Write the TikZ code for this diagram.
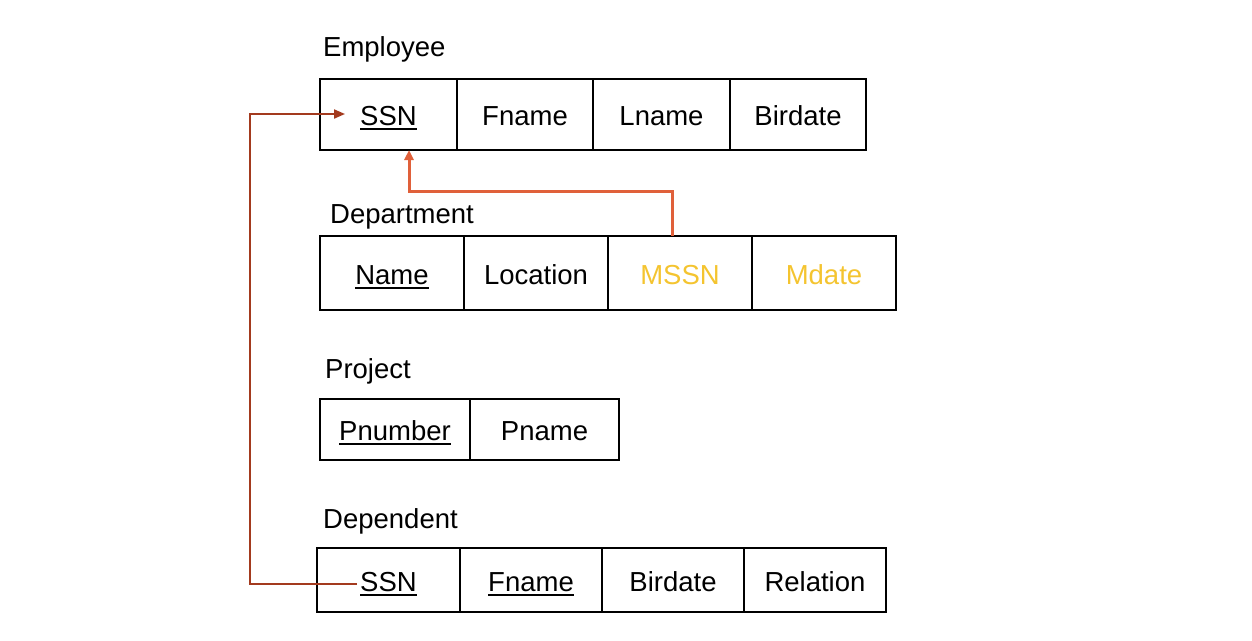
\documentclass[tikz,border=0pt]{standalone}
\usepackage{fontspec}
\setmainfont{Liberation Sans}
\usetikzlibrary{arrows.meta}
\definecolor{fkorange}{HTML}{E0603A}
\definecolor{fkred}{HTML}{A33A1E}
\definecolor{fkyellow}{HTML}{F4C430}
\newcommand\keyul[1]{\setbox0\hbox{#1}\rlap{\rule[-4.5pt]{\wd0}{1.6pt}}#1}
\begin{document}
\begin{tikzpicture}[x=1pt,y=-1pt,
  cell/.style={draw=black,line width=1.4pt,inner sep=0pt,text height=22pt,text depth=0pt,font=\fontsize{27.5}{30}\selectfont},
  title/.style={anchor=base west,inner sep=0pt,font=\fontsize{27.5}{30}\selectfont},
  redline/.style={draw=fkred,line width=2pt,-{Triangle[length=11pt,width=9pt]}},
  orangeline/.style={draw=fkorange,line width=3pt,-{Triangle[length=10pt,width=9pt]}}]
\useasboundingbox (0,0) rectangle (1252,640);
% Employee
\node[title] (tEmp) at (323,56) {Employee};
\node[cell,minimum width=137pt,minimum height=71pt] (e1) at (388.5,114.5) {\keyul{SSN}};
\node[cell,minimum width=136pt,minimum height=71pt] (e2) at (525,114.5) {Fname};
\node[cell,minimum width=137pt,minimum height=71pt] (e3) at (661.5,114.5) {Lname};
\node[cell,minimum width=136pt,minimum height=71pt] (e4) at (798,114.5) {Birdate};
% Department
\node[title] (tDep) at (330,223) {Department};
\node[cell,minimum width=144pt,minimum height=74pt] (d1) at (392,273) {\keyul{Name}};
\node[cell,minimum width=144pt,minimum height=74pt] (d2) at (536,273) {Location};
\node[cell,minimum width=144pt,minimum height=74pt,text=fkyellow] (d3) at (680,273) {MSSN};
\node[cell,minimum width=144pt,minimum height=74pt,text=fkyellow] (d4) at (824,273) {Mdate};
% Project
\node[title] (tPro) at (325,378) {Project};
\node[cell,minimum width=150pt,minimum height=61pt] (p1) at (395,429.5) {\keyul{Pnumber}};
\node[cell,minimum width=149pt,minimum height=61pt] (p2) at (544.5,429.5) {Pname};
% Dependent
\node[title] (tDpd) at (323,528) {Dependent};
\node[cell,minimum width=143pt,minimum height=64pt] (q1) at (388.5,580) {\keyul{SSN}};
\node[cell,minimum width=142pt,minimum height=64pt] (q2) at (531,580) {\keyul{Fname}};
\node[cell,minimum width=142pt,minimum height=64pt] (q3) at (673,580) {Birdate};
\node[cell,minimum width=142pt,minimum height=64pt] (q4) at (815,580) {Relation};
% connectors
\coordinate (rs) at (357,584);
\coordinate (re) at (345,114);
\draw[redline] (rs) -- ++(-107,0) |- (re);
\coordinate (os) at (672,236);
\coordinate (oe) at (409,150);
\draw[orangeline] (os) -- ++(0,-45) -| (oe);
\end{tikzpicture}
\end{document}
